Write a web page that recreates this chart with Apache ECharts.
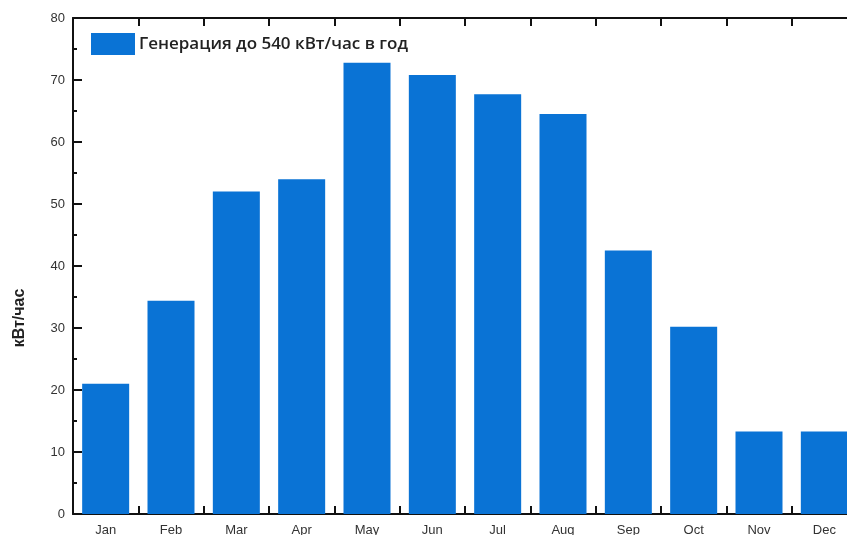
<!DOCTYPE html>
<html>
<head>
<meta charset="utf-8">
<script src="https://cdn.jsdelivr.net/npm/echarts@6/dist/echarts.min.js"></script>
<style>
  html, body { margin: 0; padding: 0; background: #fff; }
  #chart { width: 847px; height: 535px; }
</style>
</head>
<body>
<div id="chart"></div>
<script>
var months = ['Jan', 'Feb', 'Mar', 'Apr', 'May', 'Jun', 'Jul', 'Aug', 'Sep', 'Oct', 'Nov', 'Dec'];
var generation = [21.0, 34.4, 52.0, 54.0, 72.8, 70.8, 67.7, 64.5, 42.5, 30.2, 13.3, 13.3];
var seriesName = 'Генерация до 540 кВт/час в год';
var unitLabel = 'кВт/час';

var chart = echarts.init(document.getElementById('chart'));

var axisLine = { show: true, lineStyle: { color: '#111', width: 2 } };

var option = {
    animation: false,
    color: ['#0a73d5'],
    grid: { left: 73, top: 18, bottom: 21, width: 784, outerBoundsMode: 'none' },
    legend: {
        left: 91,
        top: 33,
        padding: 0,
        itemWidth: 44,
        itemHeight: 22,
        itemGap: 10,
        icon: 'rect',
        textStyle: { fontFamily: 'Open Sans', fontSize: 17, fontWeight: 600, color: '#222', padding: [0, 0, 0, -1] },
        data: [seriesName]
    },
    graphic: [{
        type: 'text',
        x: 20,
        y: 318,
        rotation: Math.PI / 2,
        style: {
            text: unitLabel,
            fontFamily: 'Arial',
            fontSize: 16,
            fontWeight: 'bold',
            fill: '#222',
            align: 'center',
            verticalAlign: 'middle'
        }
    }],
    xAxis: [{
        type: 'category',
        data: months,
        position: 'bottom',
        axisLine: axisLine,
        axisTick: { show: true, inside: true, length: 8, lineStyle: { color: '#111', width: 2 } },
        axisLabel: { fontFamily: 'Arial', fontSize: 13, color: '#333', margin: 10 },
        splitLine: { show: false }
    }, {
        type: 'category',
        data: months,
        position: 'top',
        axisLine: axisLine,
        axisTick: { show: true, inside: true, length: 8, lineStyle: { color: '#111', width: 2 } },
        axisLabel: { show: false },
        splitLine: { show: false }
    }],
    yAxis: {
        type: 'value',
        min: 0,
        max: 80,
        interval: 10,
        axisLine: axisLine,
        axisTick: { show: true, inside: true, length: 9, lineStyle: { color: '#111', width: 2 } },
        minorTick: { show: true, splitNumber: 2, length: 4, lineStyle: { color: '#111', width: 2 } },
        axisLabel: { fontFamily: 'Arial', fontSize: 13, color: '#333', margin: 8 },
        splitLine: { show: false }
    },
    series: [{
        name: seriesName,
        type: 'bar',
        barWidth: 47,
        data: generation
    }]
};

chart.setOption(option);
</script>
</body>
</html>
